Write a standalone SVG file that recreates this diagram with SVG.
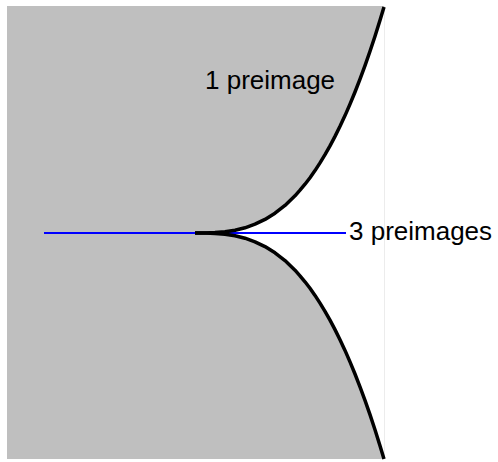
<svg xmlns="http://www.w3.org/2000/svg" width="498" height="462" viewBox="0 0 498 462">
<style>
.lbl{font-family:"Liberation Sans",Arial,sans-serif;font-size:26px;fill:#000}
.curve{fill:none;stroke:#000;stroke-width:3.5;stroke-linejoin:round;stroke-linecap:butt}
</style>
<rect x="0" y="0" width="498" height="462" fill="#fff"/>
<line x1="384.5" y1="6" x2="384.5" y2="459" stroke="#ececec" stroke-width="1"/>
<g id="region">
<path d="M7,6 L384,6 L384,7 L380,20.3 L375,36.2 L370,51.3 L365,65.6 L360,79.2 L355,92 L350,104.1 L345,115.6 L340,126.3 L335,136.4 L330,145.9 L325,154.7 L320,162.9 L315,170.6 L310,177.7 L305,184.2 L300,190.2 L295,195.8 L285,205.4 L275,213.2 L265,219.4 L255,224.2 L245,227.8 L235,230.2 L225,231.8 L215,232.6 L205,232.9 L195,233 L205,233.1 L215,233.4 L225,234.2 L235,235.8 L245,238.2 L255,241.8 L265,246.6 L275,252.8 L285,260.6 L295,270.2 L300,275.8 L305,281.8 L310,288.3 L315,295.4 L320,303.1 L325,311.3 L330,320.1 L335,329.6 L340,339.7 L345,350.4 L350,361.9 L355,374 L360,386.8 L365,400.4 L370,414.7 L375,429.8 L380,445.7 L384,459 L7,459 Z" fill="#bfbfbf"/>
</g>
<g id="connectors">
<line x1="44" y1="233" x2="346" y2="233" stroke="#0000ff" stroke-width="2"/>
</g>
<g id="cusp">
<polyline class="curve" points="384,7 380,20.3 375,36.2 370,51.3 365,65.6 360,79.2 355,92 350,104.1 345,115.6 340,126.3 335,136.4 330,145.9 325,154.7 320,162.9 315,170.6 310,177.7 305,184.2 300,190.2 295,195.8 285,205.4 275,213.2 265,219.4 255,224.2 245,227.8 235,230.2 225,231.8 215,232.6 205,232.9 195,233"/>
<polyline class="curve" points="195,233 205,233.1 215,233.4 225,234.2 235,235.8 245,238.2 255,241.8 265,246.6 275,252.8 285,260.6 295,270.2 300,275.8 305,281.8 310,288.3 315,295.4 320,303.1 325,311.3 330,320.1 335,329.6 340,339.7 345,350.4 350,361.9 355,374 360,386.8 365,400.4 370,414.7 375,429.8 380,445.7 384,459"/>
</g>
<g id="label-1">
<text class="lbl" x="205" y="89">1 preimage</text>
</g>
<g id="label-3">
<text class="lbl" x="349" y="240">3 preimages</text>
</g>
</svg>
